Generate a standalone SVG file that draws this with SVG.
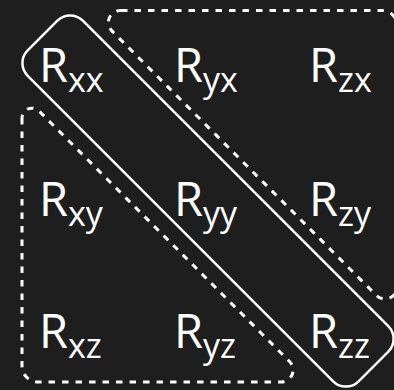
<svg xmlns="http://www.w3.org/2000/svg" width="394" height="390" viewBox="0 0 394 390">
<style>
.lbl{font-family:"Open Sans","Noto Sans",sans-serif;font-size:47px;fill:#ffffff}
.sub{font-size:34px}
.solid{fill:none;stroke:#ffffff;stroke-width:2.5}
.dash{fill:none;stroke:#ffffff;stroke-width:3;stroke-dasharray:6.5 7}
</style>
<rect width="394" height="390" fill="#1e1e1e"/>
<g id="groups">
<rect id="diagonal" class="solid" x="-234" y="-39" width="468" height="78" rx="18" transform="translate(208,201) rotate(45)"/>
<path id="upper" class="dash" d="M121 10.5 L382 10.5 A15 15 0 0 1 397 25.5 L397 287 A12 12 0 0 1 376.5 295.5 L112.5 31.5 A12 12 0 0 1 121 10.5 Z"/>
<path id="lower" class="dash" d="M22 118 L22 366 A16 16 0 0 0 38 382 L281 382 A12 12 0 0 0 289.5 361.5 L39 111 A10 10 0 0 0 22 118 Z"/>
</g>
<g id="Rxx"><text class="lbl" x="39" y="82">R<tspan class="sub" dy="10">xx</tspan></text></g>
<g id="Ryx"><text class="lbl" x="174" y="82">R<tspan class="sub" dy="10">yx</tspan></text></g>
<g id="Rzx"><text class="lbl" x="309" y="82">R<tspan class="sub" dy="10">zx</tspan></text></g>
<g id="Rxy"><text class="lbl" x="39" y="216">R<tspan class="sub" dy="10">xy</tspan></text></g>
<g id="Ryy"><text class="lbl" x="174" y="216">R<tspan class="sub" dy="10">yy</tspan></text></g>
<g id="Rzy"><text class="lbl" x="309" y="216">R<tspan class="sub" dy="10">zy</tspan></text></g>
<g id="Rxz"><text class="lbl" x="39" y="348">R<tspan class="sub" dy="10">xz</tspan></text></g>
<g id="Ryz"><text class="lbl" x="174" y="348">R<tspan class="sub" dy="10">yz</tspan></text></g>
<g id="Rzz"><text class="lbl" x="309" y="348">R<tspan class="sub" dy="10">zz</tspan></text></g>
</svg>
